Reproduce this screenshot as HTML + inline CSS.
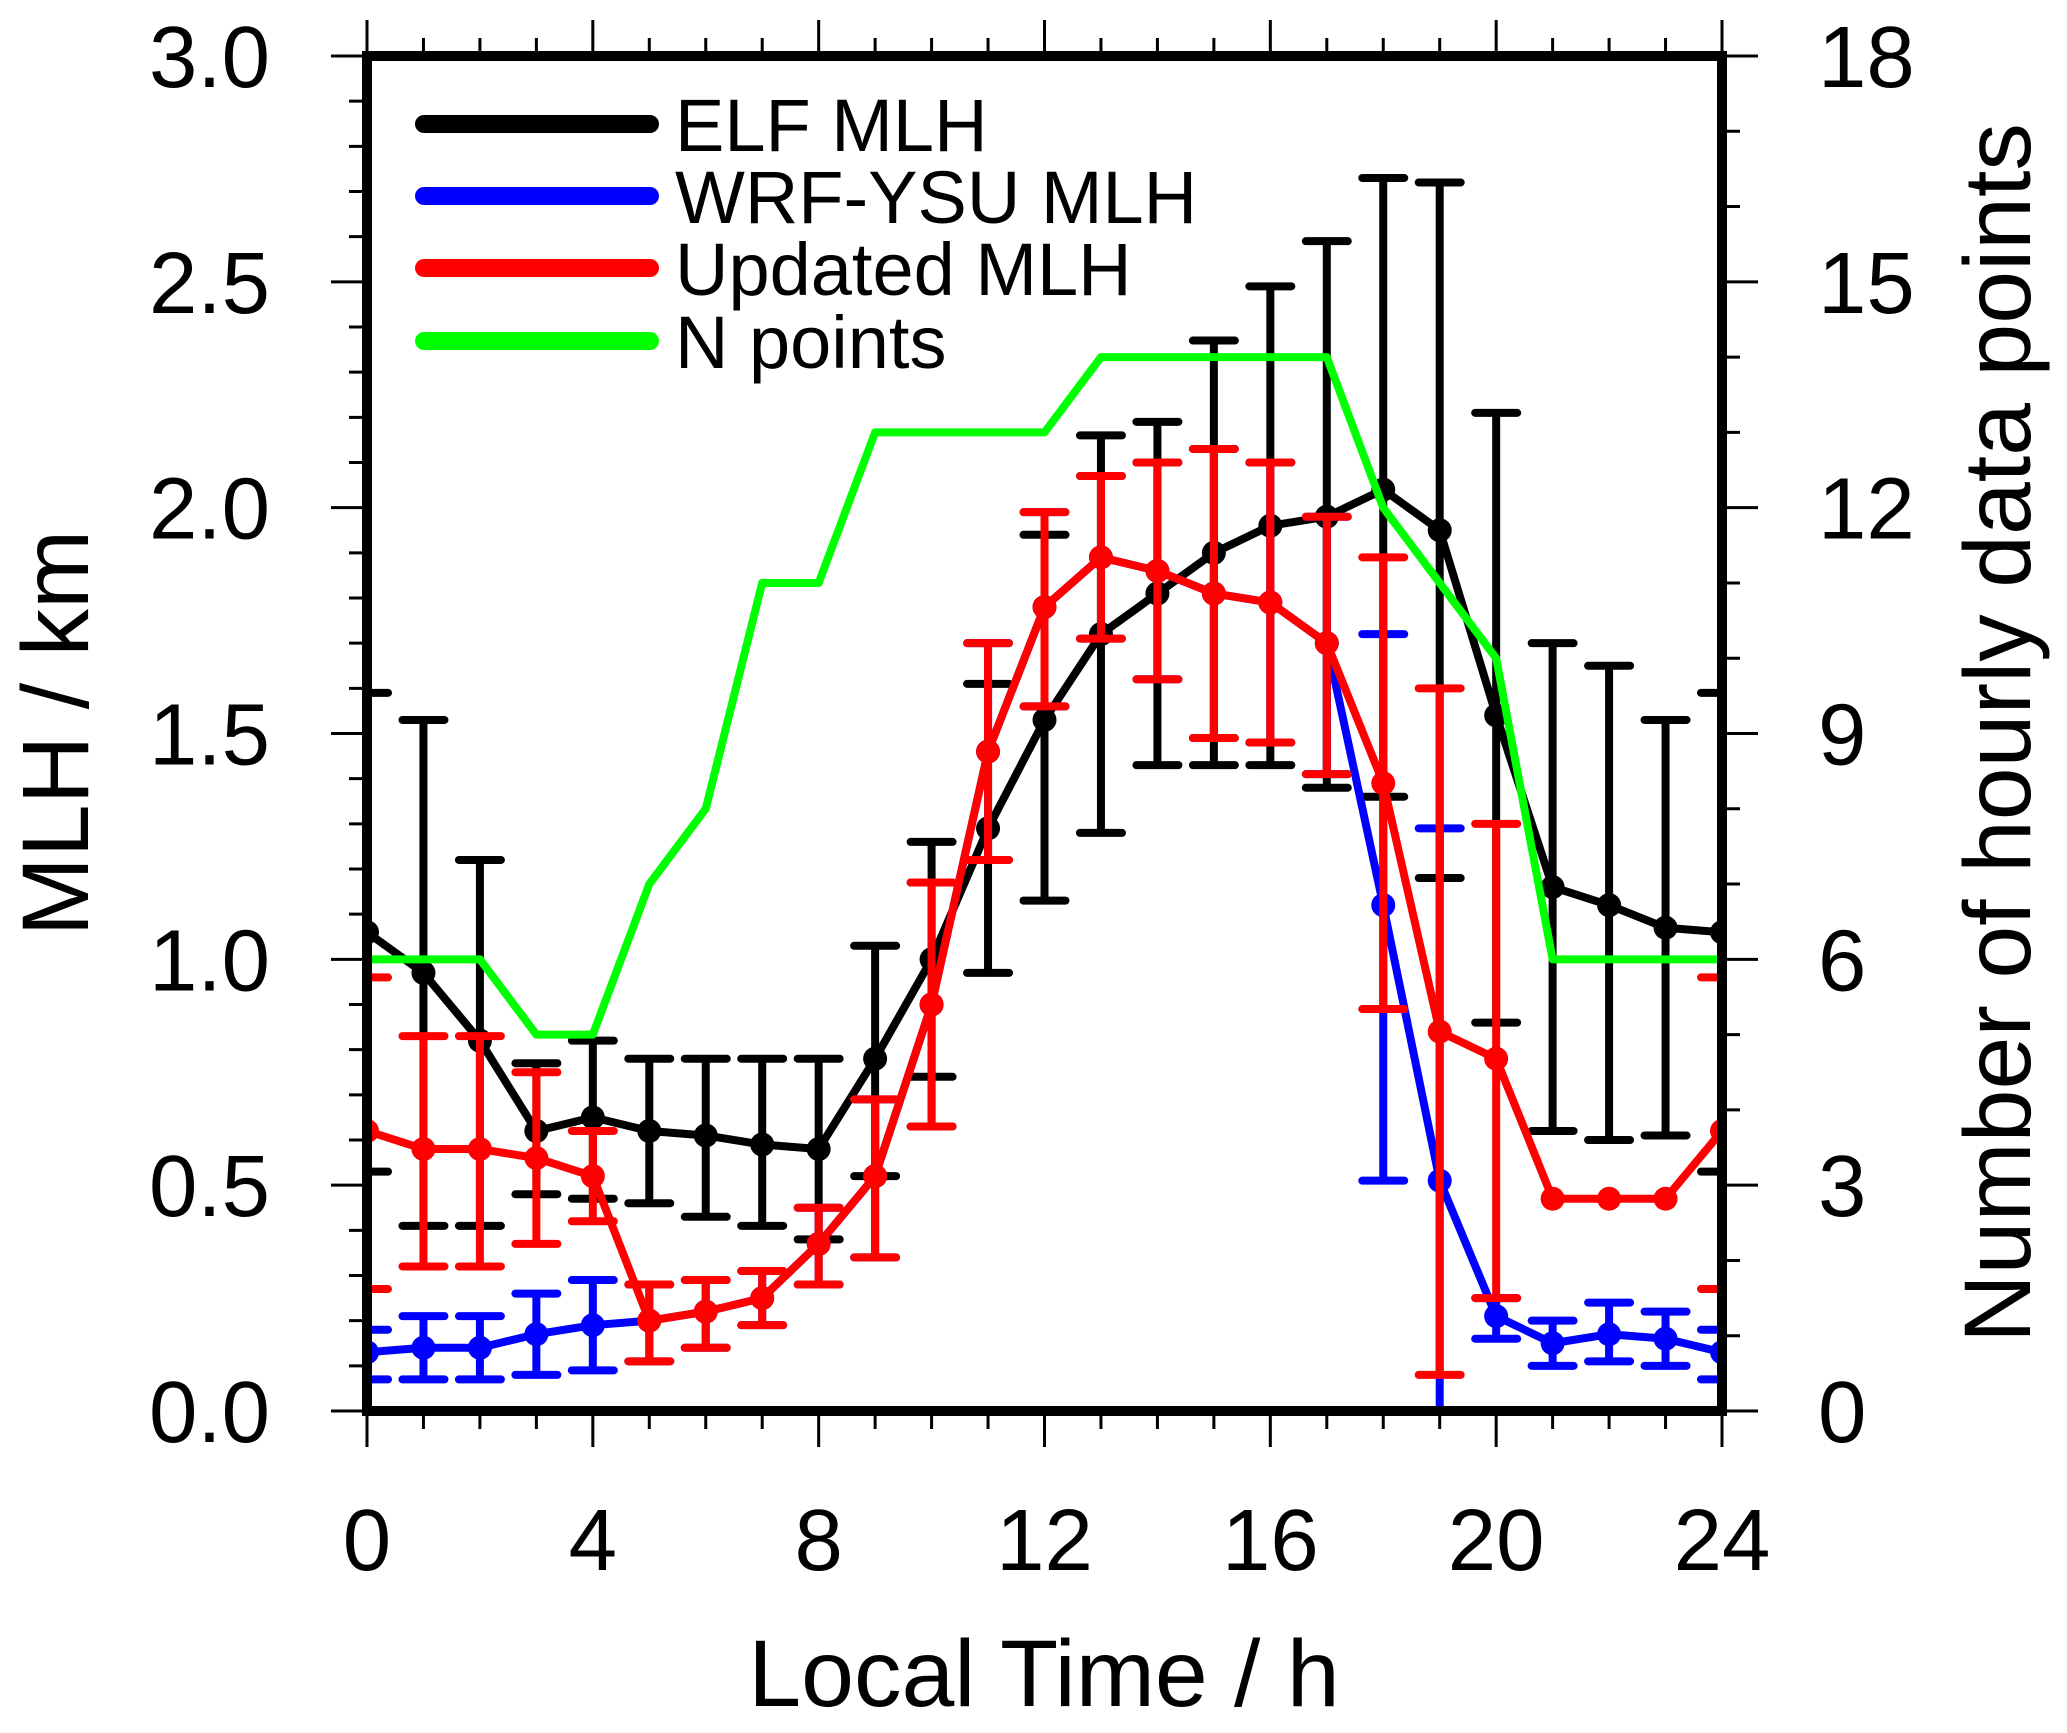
<!DOCTYPE html>
<html><head><meta charset="utf-8"><style>
html,body{margin:0;padding:0;background:#fff;}
svg text{font-family:"Liberation Sans",Arial,sans-serif;fill:#000;}
</style></head><body>
<svg id="chart" width="2067" height="1728" viewBox="0 0 2067 1728" xmlns="http://www.w3.org/2000/svg">
<defs><clipPath id="plotclip"><rect x="367" y="56" width="1355" height="1355"/></clipPath></defs>
<g id="marks" clip-path="url(#plotclip)"></g>
<g id="axes"></g>
<g id="legend"></g>
</svg>
<script>
const hours = [0,1,2,3,4,5,6,7,8,9,10,11,12,13,14,15,16,17,18,19,20,21,22,23,24];
const elfMean = [1.06,0.97,0.82,0.62,0.65,0.62,0.61,0.59,0.58,0.78,1.00,1.29,1.53,1.72,1.81,1.90,1.96,1.98,2.04,1.95,1.54,1.16,1.12,1.07,1.06];
const elfHi = [1.59,1.53,1.22,0.77,0.82,0.78,0.78,0.78,0.78,1.03,1.26,1.61,1.94,2.16,2.19,2.37,2.49,2.59,2.73,2.72,2.21,1.70,1.65,1.53,1.59];
const elfLo = [0.53,0.41,0.41,0.48,0.47,0.46,0.43,0.41,0.38,0.52,0.74,0.97,1.13,1.28,1.43,1.43,1.43,1.38,1.36,1.18,0.86,0.62,0.60,0.61,0.53];
const redMean = [0.62,0.58,0.58,0.56,0.52,0.20,0.22,0.25,0.37,0.52,0.90,1.46,1.78,1.89,1.86,1.81,1.79,1.70,1.39,0.84,0.78,0.47,0.47,0.47,0.62];
const redHi = [0.96,0.83,0.83,0.75,0.62,0.28,0.29,0.31,0.45,0.69,1.17,1.70,1.99,2.07,2.10,2.13,2.10,1.98,1.89,1.60,1.30,0.47,0.47,0.47,0.96];
const redLo = [0.27,0.32,0.32,0.37,0.42,0.11,0.14,0.19,0.28,0.34,0.63,1.22,1.56,1.71,1.62,1.49,1.48,1.41,0.89,0.08,0.25,0.47,0.47,0.47,0.27];
const blueMean = [0.13,0.14,0.14,0.17,0.19,0.20,0.22,0.25,0.37,0.52,0.90,1.46,1.78,1.89,1.86,1.81,1.79,1.70,1.12,0.51,0.21,0.15,0.17,0.16,0.13];
const blueHi = [0.18,0.21,0.21,0.26,0.29,0.28,0.29,0.31,0.45,0.69,1.17,1.70,1.99,2.07,2.10,2.13,2.10,1.98,1.72,1.29,0.25,0.20,0.24,0.22,0.18];
const blueLo = [0.07,0.07,0.07,0.08,0.09,0.11,0.14,0.19,0.28,0.34,0.63,1.22,1.56,1.71,1.62,1.49,1.48,1.41,0.51,-0.05,0.16,0.10,0.11,0.10,0.07];
const nPoints = [6,6,6,5,5,7,8,11,11,13,13,13,13,14,14,14,14,14,12,11,10,6,6,6,6];
const xTicks = [0,4,8,12,16,20,24];
const yTicks = ["0.0","0.5","1.0","1.5","2.0","2.5","3.0"];
const y2Ticks = [0,3,6,9,12,15,18];

const X0=367,X1=1722,Y0=1411,Y1=56;
const NS="http://www.w3.org/2000/svg";
function xs(h){return X0+(X1-X0)*h/24;}
function ys(v){return Y0-(Y0-Y1)*v/3;}
function y2s(n){return Y0-(Y0-Y1)*n/18;}
function mk(tag,attrs,parent){const e=document.createElementNS(NS,tag);for(const k in attrs)e.setAttribute(k,attrs[k]);parent.appendChild(e);return e;}
const marks=document.getElementById('marks'),axes=document.getElementById('axes'),legend=document.getElementById('legend');

function series(name,color,mean,hi,lo){
  const g=mk('g',{},marks);
  
  
  for(let i=0;i<hours.length;i++){
    if(hi[i]-lo[i]<0.005) continue;
    const x=xs(hours[i]);
    const bar=mk('path',{d:`M${x},${ys(hi[i])}V${ys(lo[i])}M${x-21},${ys(hi[i])}H${x+21}M${x-21},${ys(lo[i])}H${x+21}`,stroke:color,'stroke-width':8,'stroke-linecap':'round',fill:'none'},g);
    
    
  }
  const line=mk('polyline',{points:hours.map((h,i)=>xs(h)+','+ys(mean[i])).join(' '),stroke:color,'stroke-width':8,fill:'none','stroke-linejoin':'round'},g);
  
  
  for(let i=0;i<hours.length;i++){
    const c=mk('circle',{cx:xs(hours[i]),cy:ys(mean[i]),r:12,fill:color},g);
    
    
  }
}
series('elf','#000',elfMean,elfHi,elfLo);
series('wrf-ysu','#0000ff',blueMean,blueHi,blueLo);
series('updated','#ff0000',redMean,redHi,redLo);
const nl=mk('polyline',{points:hours.map((h,i)=>xs(h)+','+y2s(nPoints[i])).join(' '),stroke:'#00ff00','stroke-width':8,fill:'none','stroke-linejoin':'round'},marks);



let d='';
for(let h=0;h<=24;h++){const x=xs(h),maj=h%4===0,l=maj?36:18;d+=`M${x},${Y0}V${Y0+l}M${x},${Y1}V${Y1-l}`;}
for(let k=0;k<=30;k++){const y=ys(k/10),maj=k%5===0,l=maj?36:18;d+=`M${X0},${y}H${X0-l}`;}
for(let n=0;n<=18;n++){const y=y2s(n),maj=n%3===0,l=maj?36:18;d+=`M${X1},${y}H${X1+l}`;}
const tk=mk('path',{d:d,stroke:'#000','stroke-width':3,fill:'none'},axes);


const fr=mk('rect',{x:X0,y:Y1,width:X1-X0,height:Y0-Y1,fill:'none',stroke:'#000','stroke-width':10},axes);


xTicks.forEach(h=>{const t=mk('text',{x:xs(h),y:1570,'font-size':87,'text-anchor':'middle'},axes);t.textContent=h;
  
  });
yTicks.forEach(v=>{const t=mk('text',{x:270,y:ys(+v)+31,'font-size':87,'text-anchor':'end'},axes);t.textContent=v;
  
  });
y2Ticks.forEach(n=>{const t=mk('text',{x:1818,y:y2s(n)+31,'font-size':87,'text-anchor':'start'},axes);t.textContent=n;
  
  });
let t=mk('text',{x:1044,y:1706,'font-size':95,'text-anchor':'middle'},axes);t.textContent='Local Time / h';


t=mk('text',{x:0,y:0,'font-size':95,'text-anchor':'middle',transform:'translate(88,733) rotate(-90)'},axes);t.textContent='MLH / km';


t=mk('text',{x:0,y:0,'font-size':95,'text-anchor':'middle',transform:'translate(2030,733) rotate(-90)'},axes);t.textContent='Number of hourly data points';



const legLabels=['ELF MLH','WRF-YSU MLH','Updated MLH','N points'];
const legColors=['#000','#0000ff','#ff0000','#00ff00'];
const legY=[124,196,268,341];
legLabels.forEach((lab,i)=>{
  const ln=mk('line',{x1:424,x2:650,y1:legY[i],y2:legY[i],stroke:legColors[i],'stroke-width':18,'stroke-linecap':'round'},legend);
  
  
  const tx=mk('text',{x:675,y:legY[i]+27,'font-size':74},legend);tx.textContent=lab;
  
  
});
</script>
</body></html>
